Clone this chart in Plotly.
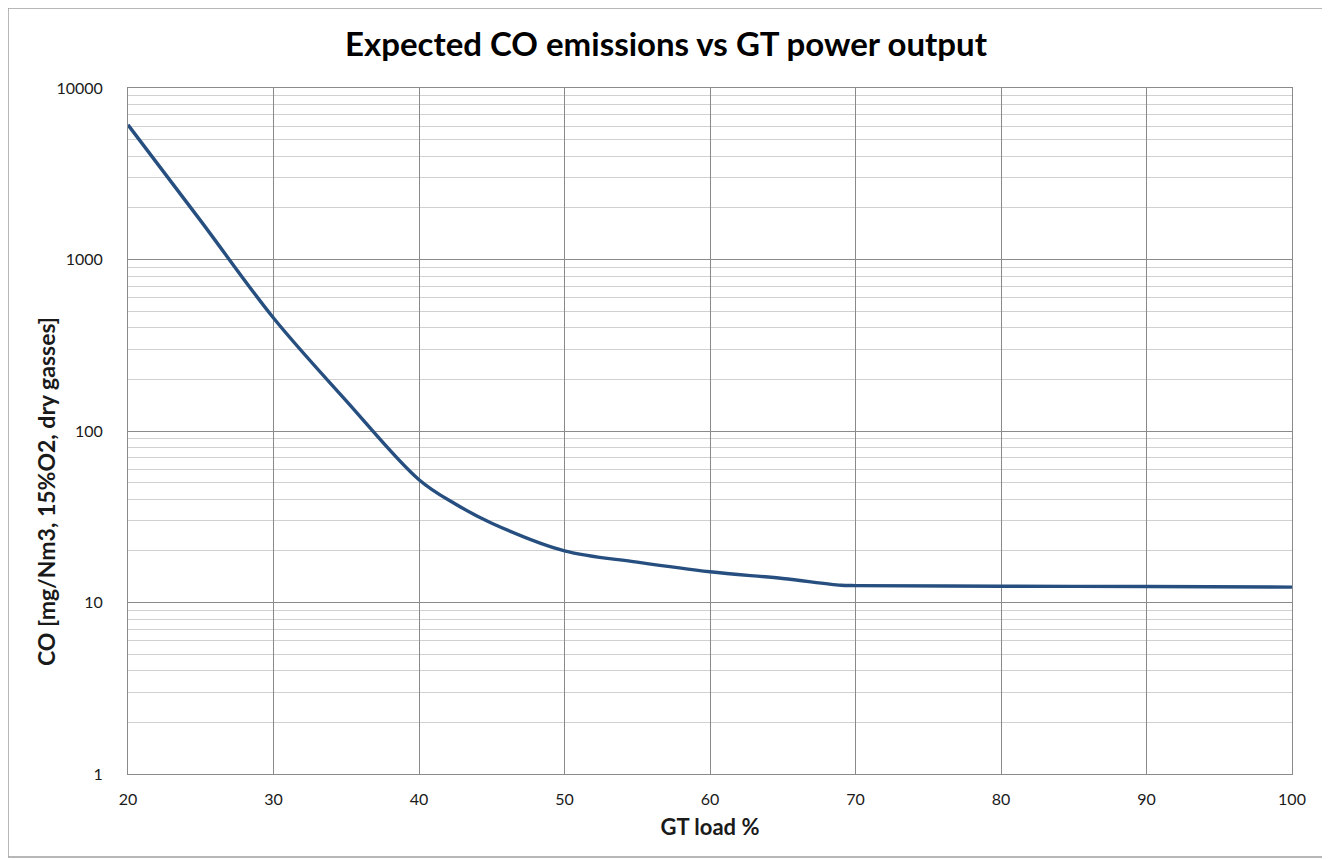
import plotly.graph_objects as go

gt_load = [20, 25, 30, 35, 40, 42.5, 45, 50, 55, 60, 65, 69, 70, 80, 90, 100]
co_emissions = [6100, 1680, 456, 150, 52, 37.5, 29, 20, 17.2, 15.1, 13.8, 12.6, 12.55, 12.45, 12.4, 12.3]

y_tickvals = [1, 10, 100, 1000, 10000]
y_ticktext = ["1", "10", "100", "1000", "10000"]
x_tickvals = [20, 30, 40, 50, 60, 70, 80, 90, 100]

FONT = "Lato"
TXT = "#1a1a1a"

L, T = 120, 80
PW, PH = 1164, 686
W, H = 1316, 850
R, B = W - L - PW, H - T - PH

fig = go.Figure()
fig.add_trace(go.Scatter(
    x=gt_load, y=co_emissions, mode="lines",
    line=dict(color="#264F80", width=3.4, shape="spline", smoothing=1.0),
    showlegend=False, hoverinfo="x+y",
))

fig.update_layout(
    width=W, height=H,
    margin=dict(l=L, r=R, t=T, b=B),
    paper_bgcolor="white", plot_bgcolor="white",
    font=dict(family=FONT, color=TXT, size=16),
    title=dict(text="<b>Expected CO emissions vs GT power output</b>",
               x=0.5, xanchor="center", y=1 - 36 / H, yanchor="middle",
               font=dict(family=FONT, size=33, color="#000000")),
    xaxis=dict(
        range=[20, 100], tickvals=x_tickvals, showgrid=True,
        gridcolor="#8a8a8a", gridwidth=1, zeroline=False,
        showline=True, linecolor="#8a8a8a", linewidth=1, mirror=True,
        ticks="", ticklabelstandoff=11,
        tickfont=dict(family=FONT, size=16, color=TXT),
        title=dict(text="<b>GT load %</b>", standoff=12,
                   font=dict(family=FONT, size=22, color=TXT)),
    ),
    yaxis=dict(
        type="log", range=[0, 4], tickvals=y_tickvals, ticktext=y_ticktext,
        showgrid=True, gridcolor="#8a8a8a", gridwidth=1, zeroline=False,
        showline=True, linecolor="#8a8a8a", linewidth=1, mirror=True,
        ticks="", ticklabelstandoff=21,
        tickfont=dict(family=FONT, size=16, color=TXT),
        minor=dict(showgrid=True, gridcolor="#d0d0d0", gridwidth=1, dtick="D1", ticks=""),
    ),
)

# y-axis title placed as an annotation (it sits below the plot centre in the reference)
fig.add_annotation(text="<b>CO [mg/Nm3, 15%O2, dry gasses]</b>", textangle=-90,
                   xref="paper", yref="paper", x=(46 - 128) / PW, y=(774 - 492) / PH,
                   xanchor="center", yanchor="middle", showarrow=False,
                   font=dict(family=FONT, size=23, color=TXT))

# outer chart border
fig.add_shape(type="rect", xref="paper", yref="paper",
              x0=(8 - 128) / PW, x1=(1323 - 128) / PW,
              y0=(774 - 857) / PH, y1=(774 - 8) / PH,
              line=dict(color="#a0a0a0", width=1.5), fillcolor="rgba(0,0,0,0)", layer="below")

fig.write_html("out.html")
